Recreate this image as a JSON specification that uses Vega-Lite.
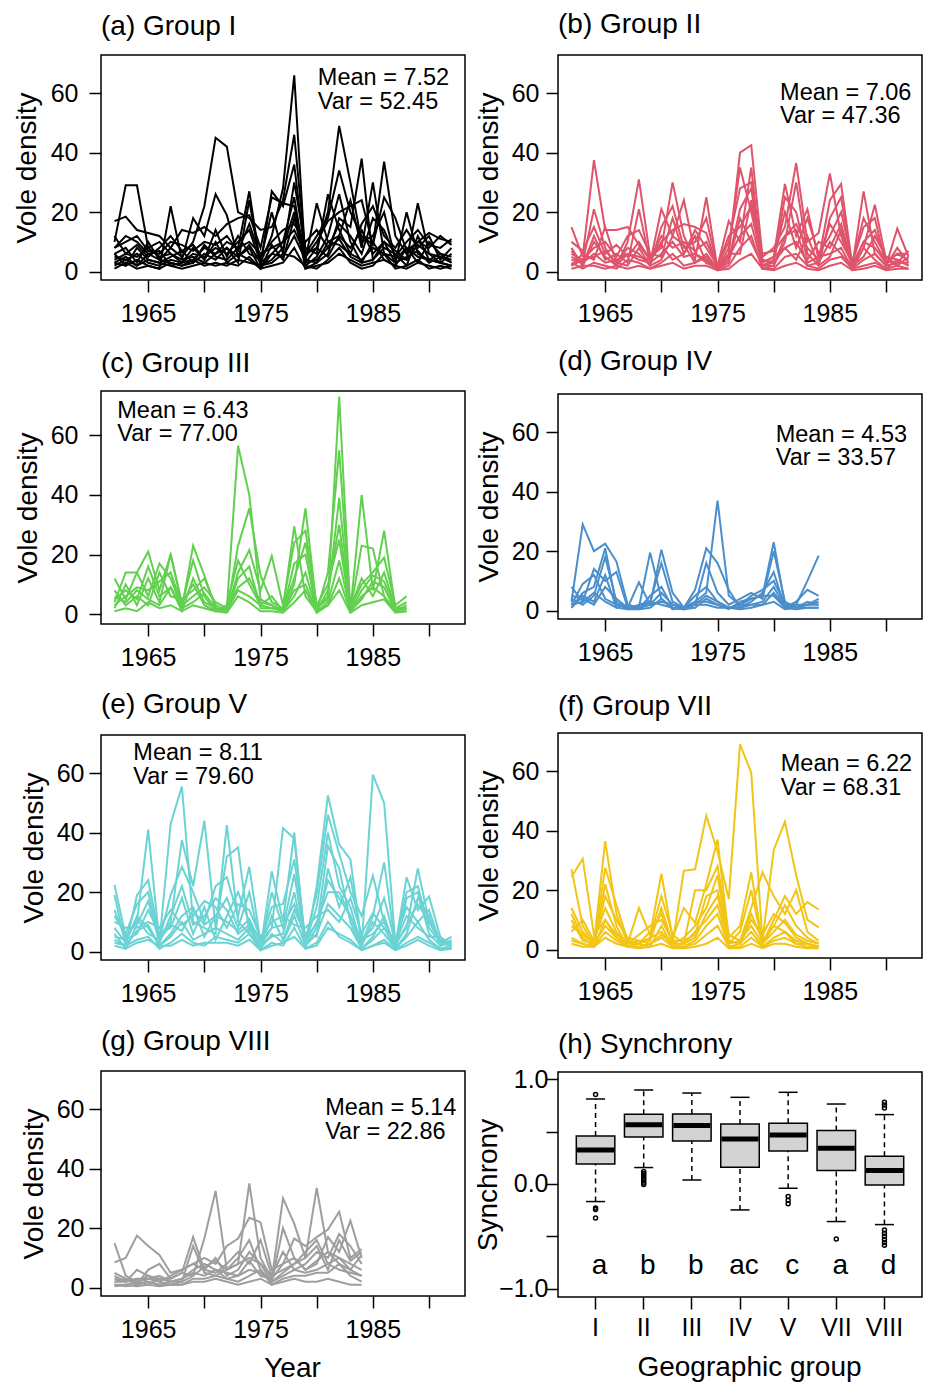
{
"$schema":"https://vega.github.io/schema/vega-lite/v6.json",
"padding":{"left":12,"top":9,"right":0,"bottom":0},
"background":"white",
"datasets":{
"a":[
{"s":1,"t":1962,"v":5},{"s":1,"t":1963,"v":4},{"s":1,"t":1964,"v":6},{"s":1,"t":1965,"v":3},{"s":1,"t":1966,"v":2},{"s":1,"t":1967,"v":4},{"s":1,"t":1968,"v":3},{"s":1,"t":1969,"v":6},{"s":1,"t":1970,"v":5},{"s":1,"t":1971,"v":8},{"s":1,"t":1972,"v":6},{"s":1,"t":1973,"v":10},{"s":1,"t":1974,"v":14},{"s":1,"t":1975,"v":3},{"s":1,"t":1976,"v":12},{"s":1,"t":1977,"v":28},{"s":1,"t":1978,"v":66},{"s":1,"t":1979,"v":3},{"s":1,"t":1980,"v":8},{"s":1,"t":1981,"v":20},{"s":1,"t":1982,"v":49},{"s":1,"t":1983,"v":30},{"s":1,"t":1984,"v":10},{"s":1,"t":1985,"v":12},{"s":1,"t":1986,"v":20},{"s":1,"t":1987,"v":4},{"s":1,"t":1988,"v":8},{"s":1,"t":1989,"v":5},{"s":1,"t":1990,"v":4},{"s":1,"t":1991,"v":6},{"s":1,"t":1992,"v":3},
{"s":2,"t":1962,"v":8},{"s":2,"t":1963,"v":12},{"s":2,"t":1964,"v":10},{"s":2,"t":1965,"v":6},{"s":2,"t":1966,"v":4},{"s":2,"t":1967,"v":8},{"s":2,"t":1968,"v":5},{"s":2,"t":1969,"v":10},{"s":2,"t":1970,"v":22},{"s":2,"t":1971,"v":45},{"s":2,"t":1972,"v":42},{"s":2,"t":1973,"v":20},{"s":2,"t":1974,"v":18},{"s":2,"t":1975,"v":14},{"s":2,"t":1976,"v":15},{"s":2,"t":1977,"v":24},{"s":2,"t":1978,"v":46},{"s":2,"t":1979,"v":6},{"s":2,"t":1980,"v":12},{"s":2,"t":1981,"v":18},{"s":2,"t":1982,"v":34},{"s":2,"t":1983,"v":20},{"s":2,"t":1984,"v":12},{"s":2,"t":1985,"v":9},{"s":2,"t":1986,"v":37},{"s":2,"t":1987,"v":12},{"s":2,"t":1988,"v":6},{"s":2,"t":1989,"v":10},{"s":2,"t":1990,"v":8},{"s":2,"t":1991,"v":12},{"s":2,"t":1992,"v":9},
{"s":3,"t":1962,"v":10},{"s":3,"t":1963,"v":29},{"s":3,"t":1964,"v":29},{"s":3,"t":1965,"v":8},{"s":3,"t":1966,"v":5},{"s":3,"t":1967,"v":6},{"s":3,"t":1968,"v":3},{"s":3,"t":1969,"v":4},{"s":3,"t":1970,"v":8},{"s":3,"t":1971,"v":6},{"s":3,"t":1972,"v":10},{"s":3,"t":1973,"v":8},{"s":3,"t":1974,"v":27},{"s":3,"t":1975,"v":2},{"s":3,"t":1976,"v":27},{"s":3,"t":1977,"v":22},{"s":3,"t":1978,"v":36},{"s":3,"t":1979,"v":4},{"s":3,"t":1980,"v":23},{"s":3,"t":1981,"v":10},{"s":3,"t":1982,"v":12},{"s":3,"t":1983,"v":24},{"s":3,"t":1984,"v":8},{"s":3,"t":1985,"v":30},{"s":3,"t":1986,"v":6},{"s":3,"t":1987,"v":5},{"s":3,"t":1988,"v":4},{"s":3,"t":1989,"v":23},{"s":3,"t":1990,"v":6},{"s":3,"t":1991,"v":5},{"s":3,"t":1992,"v":3},
{"s":4,"t":1962,"v":17},{"s":4,"t":1963,"v":18.5},{"s":4,"t":1964,"v":14},{"s":4,"t":1965,"v":13},{"s":4,"t":1966,"v":12},{"s":4,"t":1967,"v":8},{"s":4,"t":1968,"v":14},{"s":4,"t":1969,"v":13},{"s":4,"t":1970,"v":15},{"s":4,"t":1971,"v":12},{"s":4,"t":1972,"v":16},{"s":4,"t":1973,"v":18},{"s":4,"t":1974,"v":19},{"s":4,"t":1975,"v":8},{"s":4,"t":1976,"v":25},{"s":4,"t":1977,"v":23},{"s":4,"t":1978,"v":22},{"s":4,"t":1979,"v":5},{"s":4,"t":1980,"v":10},{"s":4,"t":1981,"v":17},{"s":4,"t":1982,"v":20},{"s":4,"t":1983,"v":22},{"s":4,"t":1984,"v":24},{"s":4,"t":1985,"v":9},{"s":4,"t":1986,"v":25},{"s":4,"t":1987,"v":18},{"s":4,"t":1988,"v":7},{"s":4,"t":1989,"v":10},{"s":4,"t":1990,"v":13},{"s":4,"t":1991,"v":11},{"s":4,"t":1992,"v":10},
{"s":5,"t":1962,"v":3},{"s":5,"t":1963,"v":2},{"s":5,"t":1964,"v":4},{"s":5,"t":1965,"v":2},{"s":5,"t":1966,"v":1},{"s":5,"t":1967,"v":22},{"s":5,"t":1968,"v":4},{"s":5,"t":1969,"v":18},{"s":5,"t":1970,"v":12},{"s":5,"t":1971,"v":26},{"s":5,"t":1972,"v":19},{"s":5,"t":1973,"v":5},{"s":5,"t":1974,"v":8},{"s":5,"t":1975,"v":1},{"s":5,"t":1976,"v":6},{"s":5,"t":1977,"v":10},{"s":5,"t":1978,"v":25},{"s":5,"t":1979,"v":2},{"s":5,"t":1980,"v":5},{"s":5,"t":1981,"v":12},{"s":5,"t":1982,"v":26},{"s":5,"t":1983,"v":10},{"s":5,"t":1984,"v":3},{"s":5,"t":1985,"v":4},{"s":5,"t":1986,"v":10},{"s":5,"t":1987,"v":3},{"s":5,"t":1988,"v":20},{"s":5,"t":1989,"v":6},{"s":5,"t":1990,"v":4},{"s":5,"t":1991,"v":3},{"s":5,"t":1992,"v":2},
{"s":6,"t":1962,"v":6},{"s":6,"t":1963,"v":8},{"s":6,"t":1964,"v":3},{"s":6,"t":1965,"v":10},{"s":6,"t":1966,"v":4},{"s":6,"t":1967,"v":3},{"s":6,"t":1968,"v":2},{"s":6,"t":1969,"v":3},{"s":6,"t":1970,"v":6},{"s":6,"t":1971,"v":4},{"s":6,"t":1972,"v":8},{"s":6,"t":1973,"v":3},{"s":6,"t":1974,"v":24},{"s":6,"t":1975,"v":2},{"s":6,"t":1976,"v":4},{"s":6,"t":1977,"v":8},{"s":6,"t":1978,"v":20},{"s":6,"t":1979,"v":1},{"s":6,"t":1980,"v":3},{"s":6,"t":1981,"v":6},{"s":6,"t":1982,"v":18},{"s":6,"t":1983,"v":15},{"s":6,"t":1984,"v":38},{"s":6,"t":1985,"v":4},{"s":6,"t":1986,"v":8},{"s":6,"t":1987,"v":6},{"s":6,"t":1988,"v":2},{"s":6,"t":1989,"v":12},{"s":6,"t":1990,"v":4},{"s":6,"t":1991,"v":3},{"s":6,"t":1992,"v":2},
{"s":7,"t":1962,"v":12},{"s":7,"t":1963,"v":6},{"s":7,"t":1964,"v":9},{"s":7,"t":1965,"v":5},{"s":7,"t":1966,"v":8},{"s":7,"t":1967,"v":12},{"s":7,"t":1968,"v":7},{"s":7,"t":1969,"v":9},{"s":7,"t":1970,"v":4},{"s":7,"t":1971,"v":14},{"s":7,"t":1972,"v":5},{"s":7,"t":1973,"v":12},{"s":7,"t":1974,"v":6},{"s":7,"t":1975,"v":4},{"s":7,"t":1976,"v":20},{"s":7,"t":1977,"v":6},{"s":7,"t":1978,"v":30},{"s":7,"t":1979,"v":8},{"s":7,"t":1980,"v":6},{"s":7,"t":1981,"v":26},{"s":7,"t":1982,"v":14},{"s":7,"t":1983,"v":6},{"s":7,"t":1984,"v":16},{"s":7,"t":1985,"v":22},{"s":7,"t":1986,"v":12},{"s":7,"t":1987,"v":8},{"s":7,"t":1988,"v":14},{"s":7,"t":1989,"v":8},{"s":7,"t":1990,"v":12},{"s":7,"t":1991,"v":4},{"s":7,"t":1992,"v":8},
{"s":8,"t":1962,"v":2},{"s":8,"t":1963,"v":4},{"s":8,"t":1964,"v":2},{"s":8,"t":1965,"v":4},{"s":8,"t":1966,"v":3},{"s":8,"t":1967,"v":2},{"s":8,"t":1968,"v":1},{"s":8,"t":1969,"v":2},{"s":8,"t":1970,"v":3},{"s":8,"t":1971,"v":2},{"s":8,"t":1972,"v":3},{"s":8,"t":1973,"v":2},{"s":8,"t":1974,"v":5},{"s":8,"t":1975,"v":1},{"s":8,"t":1976,"v":2},{"s":8,"t":1977,"v":3},{"s":8,"t":1978,"v":8},{"s":8,"t":1979,"v":1},{"s":8,"t":1980,"v":2},{"s":8,"t":1981,"v":3},{"s":8,"t":1982,"v":6},{"s":8,"t":1983,"v":4},{"s":8,"t":1984,"v":2},{"s":8,"t":1985,"v":3},{"s":8,"t":1986,"v":4},{"s":8,"t":1987,"v":2},{"s":8,"t":1988,"v":1},{"s":8,"t":1989,"v":3},{"s":8,"t":1990,"v":2},{"s":8,"t":1991,"v":1},{"s":8,"t":1992,"v":2},
{"s":9,"t":1962,"v":8},{"s":9,"t":1963,"v":10},{"s":9,"t":1964,"v":12},{"s":9,"t":1965,"v":7},{"s":9,"t":1966,"v":6},{"s":9,"t":1967,"v":10},{"s":9,"t":1968,"v":9},{"s":9,"t":1969,"v":7},{"s":9,"t":1970,"v":10},{"s":9,"t":1971,"v":9},{"s":9,"t":1972,"v":12},{"s":9,"t":1973,"v":7},{"s":9,"t":1974,"v":16},{"s":9,"t":1975,"v":5},{"s":9,"t":1976,"v":10},{"s":9,"t":1977,"v":14},{"s":9,"t":1978,"v":16},{"s":9,"t":1979,"v":10},{"s":9,"t":1980,"v":14},{"s":9,"t":1981,"v":8},{"s":9,"t":1982,"v":16},{"s":9,"t":1983,"v":12},{"s":9,"t":1984,"v":6},{"s":9,"t":1985,"v":18},{"s":9,"t":1986,"v":14},{"s":9,"t":1987,"v":5},{"s":9,"t":1988,"v":10},{"s":9,"t":1989,"v":14},{"s":9,"t":1990,"v":9},{"s":9,"t":1991,"v":8},{"s":9,"t":1992,"v":11},
{"s":10,"t":1962,"v":4},{"s":10,"t":1963,"v":6},{"s":10,"t":1964,"v":5},{"s":10,"t":1965,"v":8},{"s":10,"t":1966,"v":10},{"s":10,"t":1967,"v":6},{"s":10,"t":1968,"v":4},{"s":10,"t":1969,"v":5},{"s":10,"t":1970,"v":3},{"s":10,"t":1971,"v":6},{"s":10,"t":1972,"v":8},{"s":10,"t":1973,"v":5},{"s":10,"t":1974,"v":9},{"s":10,"t":1975,"v":3},{"s":10,"t":1976,"v":6},{"s":10,"t":1977,"v":5},{"s":10,"t":1978,"v":12},{"s":10,"t":1979,"v":4},{"s":10,"t":1980,"v":3},{"s":10,"t":1981,"v":10},{"s":10,"t":1982,"v":9},{"s":10,"t":1983,"v":6},{"s":10,"t":1984,"v":4},{"s":10,"t":1985,"v":8},{"s":10,"t":1986,"v":6},{"s":10,"t":1987,"v":3},{"s":10,"t":1988,"v":5},{"s":10,"t":1989,"v":7},{"s":10,"t":1990,"v":3},{"s":10,"t":1991,"v":5},{"s":10,"t":1992,"v":4},
{"s":11,"t":1962,"v":1},{"s":11,"t":1963,"v":3},{"s":11,"t":1964,"v":1},{"s":11,"t":1965,"v":2},{"s":11,"t":1966,"v":1},{"s":11,"t":1967,"v":3},{"s":11,"t":1968,"v":2},{"s":11,"t":1969,"v":4},{"s":11,"t":1970,"v":2},{"s":11,"t":1971,"v":3},{"s":11,"t":1972,"v":2},{"s":11,"t":1973,"v":4},{"s":11,"t":1974,"v":3},{"s":11,"t":1975,"v":2},{"s":11,"t":1976,"v":3},{"s":11,"t":1977,"v":6},{"s":11,"t":1978,"v":5},{"s":11,"t":1979,"v":2},{"s":11,"t":1980,"v":1},{"s":11,"t":1981,"v":4},{"s":11,"t":1982,"v":8},{"s":11,"t":1983,"v":3},{"s":11,"t":1984,"v":1},{"s":11,"t":1985,"v":2},{"s":11,"t":1986,"v":6},{"s":11,"t":1987,"v":1},{"s":11,"t":1988,"v":2},{"s":11,"t":1989,"v":4},{"s":11,"t":1990,"v":1},{"s":11,"t":1991,"v":2},{"s":11,"t":1992,"v":1},
{"s":12,"t":1962,"v":6},{"s":12,"t":1963,"v":2},{"s":12,"t":1964,"v":8},{"s":12,"t":1965,"v":4},{"s":12,"t":1966,"v":3},{"s":12,"t":1967,"v":5},{"s":12,"t":1968,"v":7},{"s":12,"t":1969,"v":3},{"s":12,"t":1970,"v":9},{"s":12,"t":1971,"v":5},{"s":12,"t":1972,"v":4},{"s":12,"t":1973,"v":8},{"s":12,"t":1974,"v":10},{"s":12,"t":1975,"v":6},{"s":12,"t":1976,"v":8},{"s":12,"t":1977,"v":10},{"s":12,"t":1978,"v":14},{"s":12,"t":1979,"v":6},{"s":12,"t":1980,"v":8},{"s":12,"t":1981,"v":5},{"s":12,"t":1982,"v":12},{"s":12,"t":1983,"v":8},{"s":12,"t":1984,"v":14},{"s":12,"t":1985,"v":6},{"s":12,"t":1986,"v":10},{"s":12,"t":1987,"v":7},{"s":12,"t":1988,"v":4},{"s":12,"t":1989,"v":9},{"s":12,"t":1990,"v":6},{"s":12,"t":1991,"v":3},{"s":12,"t":1992,"v":6},
{"s":13,"t":1962,"v":3},{"s":13,"t":1963,"v":5},{"s":13,"t":1964,"v":2},{"s":13,"t":1965,"v":6},{"s":13,"t":1966,"v":7},{"s":13,"t":1967,"v":2},{"s":13,"t":1968,"v":3},{"s":13,"t":1969,"v":8},{"s":13,"t":1970,"v":4},{"s":13,"t":1971,"v":10},{"s":13,"t":1972,"v":3},{"s":13,"t":1973,"v":6},{"s":13,"t":1974,"v":4},{"s":13,"t":1975,"v":1},{"s":13,"t":1976,"v":9},{"s":13,"t":1977,"v":4},{"s":13,"t":1978,"v":18},{"s":13,"t":1979,"v":3},{"s":13,"t":1980,"v":4},{"s":13,"t":1981,"v":8},{"s":13,"t":1982,"v":11},{"s":13,"t":1983,"v":5},{"s":13,"t":1984,"v":3},{"s":13,"t":1985,"v":10},{"s":13,"t":1986,"v":4},{"s":13,"t":1987,"v":2},{"s":13,"t":1988,"v":8},{"s":13,"t":1989,"v":3},{"s":13,"t":1990,"v":10},{"s":13,"t":1991,"v":6},{"s":13,"t":1992,"v":5}
],
"b":[
{"s":1,"t":1962,"v":15},{"s":1,"t":1963,"v":5},{"s":1,"t":1964,"v":37.5},{"s":1,"t":1965,"v":14},{"s":1,"t":1966,"v":14},{"s":1,"t":1967,"v":15},{"s":1,"t":1968,"v":9},{"s":1,"t":1969,"v":4},{"s":1,"t":1970,"v":10},{"s":1,"t":1971,"v":14},{"s":1,"t":1972,"v":16},{"s":1,"t":1973,"v":15},{"s":1,"t":1974,"v":13},{"s":1,"t":1975,"v":1},{"s":1,"t":1976,"v":6},{"s":1,"t":1977,"v":40},{"s":1,"t":1978,"v":42.5},{"s":1,"t":1979,"v":5},{"s":1,"t":1980,"v":8},{"s":1,"t":1981,"v":15},{"s":1,"t":1982,"v":36.5},{"s":1,"t":1983,"v":10},{"s":1,"t":1984,"v":13},{"s":1,"t":1985,"v":33},{"s":1,"t":1986,"v":12},{"s":1,"t":1987,"v":2},{"s":1,"t":1988,"v":10},{"s":1,"t":1989,"v":8},{"s":1,"t":1990,"v":3},{"s":1,"t":1991,"v":6},{"s":1,"t":1992,"v":4},
{"s":2,"t":1962,"v":4},{"s":2,"t":1963,"v":3},{"s":2,"t":1964,"v":21},{"s":2,"t":1965,"v":8},{"s":2,"t":1966,"v":2},{"s":2,"t":1967,"v":10},{"s":2,"t":1968,"v":31},{"s":2,"t":1969,"v":5},{"s":2,"t":1970,"v":8},{"s":2,"t":1971,"v":30},{"s":2,"t":1972,"v":12},{"s":2,"t":1973,"v":4},{"s":2,"t":1974,"v":25},{"s":2,"t":1975,"v":1},{"s":2,"t":1976,"v":8},{"s":2,"t":1977,"v":35},{"s":2,"t":1978,"v":20},{"s":2,"t":1979,"v":3},{"s":2,"t":1980,"v":5},{"s":2,"t":1981,"v":29.5},{"s":2,"t":1982,"v":12},{"s":2,"t":1983,"v":21},{"s":2,"t":1984,"v":4},{"s":2,"t":1985,"v":24},{"s":2,"t":1986,"v":29.5},{"s":2,"t":1987,"v":2},{"s":2,"t":1988,"v":27},{"s":2,"t":1989,"v":6},{"s":2,"t":1990,"v":2},{"s":2,"t":1991,"v":14.5},{"s":2,"t":1992,"v":5},
{"s":3,"t":1962,"v":8},{"s":3,"t":1963,"v":2},{"s":3,"t":1964,"v":12},{"s":3,"t":1965,"v":4},{"s":3,"t":1966,"v":6},{"s":3,"t":1967,"v":3},{"s":3,"t":1968,"v":21},{"s":3,"t":1969,"v":3},{"s":3,"t":1970,"v":21},{"s":3,"t":1971,"v":12},{"s":3,"t":1972,"v":24},{"s":3,"t":1973,"v":6},{"s":3,"t":1974,"v":3},{"s":3,"t":1975,"v":2},{"s":3,"t":1976,"v":17},{"s":3,"t":1977,"v":10},{"s":3,"t":1978,"v":35},{"s":3,"t":1979,"v":1},{"s":3,"t":1980,"v":2},{"s":3,"t":1981,"v":10},{"s":3,"t":1982,"v":30},{"s":3,"t":1983,"v":6},{"s":3,"t":1984,"v":2},{"s":3,"t":1985,"v":18},{"s":3,"t":1986,"v":25},{"s":3,"t":1987,"v":1},{"s":3,"t":1988,"v":8},{"s":3,"t":1989,"v":22.5},{"s":3,"t":1990,"v":4},{"s":3,"t":1991,"v":3},{"s":3,"t":1992,"v":7},
{"s":4,"t":1962,"v":2},{"s":4,"t":1963,"v":6},{"s":4,"t":1964,"v":4},{"s":4,"t":1965,"v":15},{"s":4,"t":1966,"v":3},{"s":4,"t":1967,"v":8},{"s":4,"t":1968,"v":6},{"s":4,"t":1969,"v":2},{"s":4,"t":1970,"v":15},{"s":4,"t":1971,"v":22},{"s":4,"t":1972,"v":8},{"s":4,"t":1973,"v":10},{"s":4,"t":1974,"v":18},{"s":4,"t":1975,"v":1},{"s":4,"t":1976,"v":4},{"s":4,"t":1977,"v":21},{"s":4,"t":1978,"v":28},{"s":4,"t":1979,"v":2},{"s":4,"t":1980,"v":4},{"s":4,"t":1981,"v":20},{"s":4,"t":1982,"v":8},{"s":4,"t":1983,"v":18},{"s":4,"t":1984,"v":6},{"s":4,"t":1985,"v":12},{"s":4,"t":1986,"v":20},{"s":4,"t":1987,"v":3},{"s":4,"t":1988,"v":15},{"s":4,"t":1989,"v":18},{"s":4,"t":1990,"v":2},{"s":4,"t":1991,"v":8},{"s":4,"t":1992,"v":3},
{"s":5,"t":1962,"v":6},{"s":5,"t":1963,"v":4},{"s":5,"t":1964,"v":8},{"s":5,"t":1965,"v":10},{"s":5,"t":1966,"v":5},{"s":5,"t":1967,"v":12},{"s":5,"t":1968,"v":14},{"s":5,"t":1969,"v":6},{"s":5,"t":1970,"v":5},{"s":5,"t":1971,"v":18},{"s":5,"t":1972,"v":6},{"s":5,"t":1973,"v":14},{"s":5,"t":1974,"v":8},{"s":5,"t":1975,"v":2},{"s":5,"t":1976,"v":10},{"s":5,"t":1977,"v":28},{"s":5,"t":1978,"v":30},{"s":5,"t":1979,"v":4},{"s":5,"t":1980,"v":3},{"s":5,"t":1981,"v":25},{"s":5,"t":1982,"v":20},{"s":5,"t":1983,"v":4},{"s":5,"t":1984,"v":10},{"s":5,"t":1985,"v":8},{"s":5,"t":1986,"v":16},{"s":5,"t":1987,"v":2},{"s":5,"t":1988,"v":5},{"s":5,"t":1989,"v":12},{"s":5,"t":1990,"v":5},{"s":5,"t":1991,"v":4},{"s":5,"t":1992,"v":2},
{"s":6,"t":1962,"v":3},{"s":6,"t":1963,"v":1},{"s":6,"t":1964,"v":3},{"s":6,"t":1965,"v":2},{"s":6,"t":1966,"v":1},{"s":6,"t":1967,"v":4},{"s":6,"t":1968,"v":3},{"s":6,"t":1969,"v":1},{"s":6,"t":1970,"v":3},{"s":6,"t":1971,"v":6},{"s":6,"t":1972,"v":2},{"s":6,"t":1973,"v":3},{"s":6,"t":1974,"v":5},{"s":6,"t":1975,"v":0.5},{"s":6,"t":1976,"v":2},{"s":6,"t":1977,"v":8},{"s":6,"t":1978,"v":12},{"s":6,"t":1979,"v":1},{"s":6,"t":1980,"v":1},{"s":6,"t":1981,"v":5},{"s":6,"t":1982,"v":6},{"s":6,"t":1983,"v":2},{"s":6,"t":1984,"v":1},{"s":6,"t":1985,"v":4},{"s":6,"t":1986,"v":5},{"s":6,"t":1987,"v":1},{"s":6,"t":1988,"v":2},{"s":6,"t":1989,"v":3},{"s":6,"t":1990,"v":1},{"s":6,"t":1991,"v":2},{"s":6,"t":1992,"v":1},
{"s":7,"t":1962,"v":10},{"s":7,"t":1963,"v":7},{"s":7,"t":1964,"v":15},{"s":7,"t":1965,"v":6},{"s":7,"t":1966,"v":9},{"s":7,"t":1967,"v":5},{"s":7,"t":1968,"v":10},{"s":7,"t":1969,"v":4},{"s":7,"t":1970,"v":12},{"s":7,"t":1971,"v":8},{"s":7,"t":1972,"v":10},{"s":7,"t":1973,"v":7},{"s":7,"t":1974,"v":10},{"s":7,"t":1975,"v":2},{"s":7,"t":1976,"v":12},{"s":7,"t":1977,"v":15},{"s":7,"t":1978,"v":22},{"s":7,"t":1979,"v":6},{"s":7,"t":1980,"v":7},{"s":7,"t":1981,"v":12},{"s":7,"t":1982,"v":16},{"s":7,"t":1983,"v":8},{"s":7,"t":1984,"v":4},{"s":7,"t":1985,"v":16},{"s":7,"t":1986,"v":10},{"s":7,"t":1987,"v":3},{"s":7,"t":1988,"v":18},{"s":7,"t":1989,"v":10},{"s":7,"t":1990,"v":3},{"s":7,"t":1991,"v":6},{"s":7,"t":1992,"v":6},
{"s":8,"t":1962,"v":5},{"s":8,"t":1963,"v":3},{"s":8,"t":1964,"v":6},{"s":8,"t":1965,"v":3},{"s":8,"t":1966,"v":4},{"s":8,"t":1967,"v":6},{"s":8,"t":1968,"v":4},{"s":8,"t":1969,"v":3},{"s":8,"t":1970,"v":6},{"s":8,"t":1971,"v":10},{"s":8,"t":1972,"v":5},{"s":8,"t":1973,"v":6},{"s":8,"t":1974,"v":4},{"s":8,"t":1975,"v":1},{"s":8,"t":1976,"v":5},{"s":8,"t":1977,"v":12},{"s":8,"t":1978,"v":16},{"s":8,"t":1979,"v":2},{"s":8,"t":1980,"v":3},{"s":8,"t":1981,"v":8},{"s":8,"t":1982,"v":10},{"s":8,"t":1983,"v":3},{"s":8,"t":1984,"v":5},{"s":8,"t":1985,"v":6},{"s":8,"t":1986,"v":8},{"s":8,"t":1987,"v":1},{"s":8,"t":1988,"v":4},{"s":8,"t":1989,"v":6},{"s":8,"t":1990,"v":2},{"s":8,"t":1991,"v":3},{"s":8,"t":1992,"v":3},
{"s":9,"t":1962,"v":2},{"s":9,"t":1963,"v":4},{"s":9,"t":1964,"v":5},{"s":9,"t":1965,"v":7},{"s":9,"t":1966,"v":3},{"s":9,"t":1967,"v":2},{"s":9,"t":1968,"v":8},{"s":9,"t":1969,"v":2},{"s":9,"t":1970,"v":4},{"s":9,"t":1971,"v":12},{"s":9,"t":1972,"v":9},{"s":9,"t":1973,"v":3},{"s":9,"t":1974,"v":6},{"s":9,"t":1975,"v":1},{"s":9,"t":1976,"v":3},{"s":9,"t":1977,"v":18},{"s":9,"t":1978,"v":10},{"s":9,"t":1979,"v":2},{"s":9,"t":1980,"v":2},{"s":9,"t":1981,"v":12},{"s":9,"t":1982,"v":14},{"s":9,"t":1983,"v":2},{"s":9,"t":1984,"v":3},{"s":9,"t":1985,"v":10},{"s":9,"t":1986,"v":6},{"s":9,"t":1987,"v":1},{"s":9,"t":1988,"v":8},{"s":9,"t":1989,"v":4},{"s":9,"t":1990,"v":1},{"s":9,"t":1991,"v":4},{"s":9,"t":1992,"v":2},
{"s":10,"t":1962,"v":7},{"s":10,"t":1963,"v":2},{"s":10,"t":1964,"v":10},{"s":10,"t":1965,"v":5},{"s":10,"t":1966,"v":2},{"s":10,"t":1967,"v":6},{"s":10,"t":1968,"v":5},{"s":10,"t":1969,"v":4},{"s":10,"t":1970,"v":9},{"s":10,"t":1971,"v":4},{"s":10,"t":1972,"v":6},{"s":10,"t":1973,"v":12},{"s":10,"t":1974,"v":3},{"s":10,"t":1975,"v":1},{"s":10,"t":1976,"v":6},{"s":10,"t":1977,"v":6},{"s":10,"t":1978,"v":24},{"s":10,"t":1979,"v":3},{"s":10,"t":1980,"v":5},{"s":10,"t":1981,"v":8},{"s":10,"t":1982,"v":4},{"s":10,"t":1983,"v":12},{"s":10,"t":1984,"v":2},{"s":10,"t":1985,"v":5},{"s":10,"t":1986,"v":14},{"s":10,"t":1987,"v":2},{"s":10,"t":1988,"v":10},{"s":10,"t":1989,"v":14},{"s":10,"t":1990,"v":4},{"s":10,"t":1991,"v":2},{"s":10,"t":1992,"v":5},
{"s":11,"t":1962,"v":1},{"s":11,"t":1963,"v":2},{"s":11,"t":1964,"v":2},{"s":11,"t":1965,"v":1},{"s":11,"t":1966,"v":2},{"s":11,"t":1967,"v":1},{"s":11,"t":1968,"v":2},{"s":11,"t":1969,"v":1},{"s":11,"t":1970,"v":2},{"s":11,"t":1971,"v":3},{"s":11,"t":1972,"v":1},{"s":11,"t":1973,"v":2},{"s":11,"t":1974,"v":2},{"s":11,"t":1975,"v":0.5},{"s":11,"t":1976,"v":1},{"s":11,"t":1977,"v":4},{"s":11,"t":1978,"v":6},{"s":11,"t":1979,"v":1},{"s":11,"t":1980,"v":0.5},{"s":11,"t":1981,"v":2},{"s":11,"t":1982,"v":3},{"s":11,"t":1983,"v":1},{"s":11,"t":1984,"v":0.5},{"s":11,"t":1985,"v":2},{"s":11,"t":1986,"v":3},{"s":11,"t":1987,"v":0.5},{"s":11,"t":1988,"v":1},{"s":11,"t":1989,"v":2},{"s":11,"t":1990,"v":0.5},{"s":11,"t":1991,"v":1},{"s":11,"t":1992,"v":1}
],
"c":[
{"s":1,"t":1962,"v":12},{"s":1,"t":1963,"v":5},{"s":1,"t":1964,"v":14},{"s":1,"t":1965,"v":21},{"s":1,"t":1966,"v":8},{"s":1,"t":1967,"v":20},{"s":1,"t":1968,"v":4},{"s":1,"t":1969,"v":10},{"s":1,"t":1970,"v":3},{"s":1,"t":1971,"v":1},{"s":1,"t":1972,"v":2},{"s":1,"t":1973,"v":56.5},{"s":1,"t":1974,"v":40},{"s":1,"t":1975,"v":5},{"s":1,"t":1976,"v":3},{"s":1,"t":1977,"v":1},{"s":1,"t":1978,"v":10},{"s":1,"t":1979,"v":35.5},{"s":1,"t":1980,"v":2},{"s":1,"t":1981,"v":5},{"s":1,"t":1982,"v":73},{"s":1,"t":1983,"v":1},{"s":1,"t":1984,"v":40},{"s":1,"t":1985,"v":8},{"s":1,"t":1986,"v":28},{"s":1,"t":1987,"v":2},{"s":1,"t":1988,"v":4},
{"s":2,"t":1962,"v":4},{"s":2,"t":1963,"v":14},{"s":2,"t":1964,"v":14},{"s":2,"t":1965,"v":6},{"s":2,"t":1966,"v":17},{"s":2,"t":1967,"v":12},{"s":2,"t":1968,"v":2},{"s":2,"t":1969,"v":23},{"s":2,"t":1970,"v":13},{"s":2,"t":1971,"v":2},{"s":2,"t":1972,"v":1},{"s":2,"t":1973,"v":23},{"s":2,"t":1974,"v":35.5},{"s":2,"t":1975,"v":13},{"s":2,"t":1976,"v":4},{"s":2,"t":1977,"v":2},{"s":2,"t":1978,"v":29.5},{"s":2,"t":1979,"v":6},{"s":2,"t":1980,"v":1},{"s":2,"t":1981,"v":14},{"s":2,"t":1982,"v":55},{"s":2,"t":1983,"v":1},{"s":2,"t":1984,"v":23},{"s":2,"t":1985,"v":22},{"s":2,"t":1986,"v":6},{"s":2,"t":1987,"v":1},{"s":2,"t":1988,"v":3},
{"s":3,"t":1962,"v":8},{"s":3,"t":1963,"v":3},{"s":3,"t":1964,"v":6},{"s":3,"t":1965,"v":3},{"s":3,"t":1966,"v":14},{"s":3,"t":1967,"v":6},{"s":3,"t":1968,"v":5},{"s":3,"t":1969,"v":8},{"s":3,"t":1970,"v":12},{"s":3,"t":1971,"v":3},{"s":3,"t":1972,"v":1},{"s":3,"t":1973,"v":14},{"s":3,"t":1974,"v":21.5},{"s":3,"t":1975,"v":8},{"s":3,"t":1976,"v":19.5},{"s":3,"t":1977,"v":3},{"s":3,"t":1978,"v":24},{"s":3,"t":1979,"v":28},{"s":3,"t":1980,"v":2},{"s":3,"t":1981,"v":6},{"s":3,"t":1982,"v":39},{"s":3,"t":1983,"v":2},{"s":3,"t":1984,"v":10},{"s":3,"t":1985,"v":14},{"s":3,"t":1986,"v":19},{"s":3,"t":1987,"v":3},{"s":3,"t":1988,"v":6},
{"s":4,"t":1962,"v":2},{"s":4,"t":1963,"v":10},{"s":4,"t":1964,"v":3},{"s":4,"t":1965,"v":12},{"s":4,"t":1966,"v":4},{"s":4,"t":1967,"v":20},{"s":4,"t":1968,"v":3},{"s":4,"t":1969,"v":18},{"s":4,"t":1970,"v":6},{"s":4,"t":1971,"v":1},{"s":4,"t":1972,"v":3},{"s":4,"t":1973,"v":18},{"s":4,"t":1974,"v":10},{"s":4,"t":1975,"v":3},{"s":4,"t":1976,"v":6},{"s":4,"t":1977,"v":1},{"s":4,"t":1978,"v":17},{"s":4,"t":1979,"v":20},{"s":4,"t":1980,"v":1},{"s":4,"t":1981,"v":8},{"s":4,"t":1982,"v":30},{"s":4,"t":1983,"v":2},{"s":4,"t":1984,"v":12},{"s":4,"t":1985,"v":6},{"s":4,"t":1986,"v":14},{"s":4,"t":1987,"v":2},{"s":4,"t":1988,"v":2},
{"s":5,"t":1962,"v":5},{"s":5,"t":1963,"v":8},{"s":5,"t":1964,"v":5},{"s":5,"t":1965,"v":16},{"s":5,"t":1966,"v":6},{"s":5,"t":1967,"v":9},{"s":5,"t":1968,"v":1},{"s":5,"t":1969,"v":12},{"s":5,"t":1970,"v":4},{"s":5,"t":1971,"v":2},{"s":5,"t":1972,"v":1},{"s":5,"t":1973,"v":12},{"s":5,"t":1974,"v":16},{"s":5,"t":1975,"v":2},{"s":5,"t":1976,"v":2},{"s":5,"t":1977,"v":2},{"s":5,"t":1978,"v":12},{"s":5,"t":1979,"v":24},{"s":5,"t":1980,"v":3},{"s":5,"t":1981,"v":10},{"s":5,"t":1982,"v":25},{"s":5,"t":1983,"v":1},{"s":5,"t":1984,"v":5},{"s":5,"t":1985,"v":11},{"s":5,"t":1986,"v":9},{"s":5,"t":1987,"v":1},{"s":5,"t":1988,"v":1},
{"s":6,"t":1962,"v":1},{"s":6,"t":1963,"v":2},{"s":6,"t":1964,"v":1},{"s":6,"t":1965,"v":4},{"s":6,"t":1966,"v":2},{"s":6,"t":1967,"v":3},{"s":6,"t":1968,"v":1},{"s":6,"t":1969,"v":3},{"s":6,"t":1970,"v":2},{"s":6,"t":1971,"v":1},{"s":6,"t":1972,"v":0.5},{"s":6,"t":1973,"v":6},{"s":6,"t":1974,"v":4},{"s":6,"t":1975,"v":1},{"s":6,"t":1976,"v":1},{"s":6,"t":1977,"v":0.5},{"s":6,"t":1978,"v":4},{"s":6,"t":1979,"v":8},{"s":6,"t":1980,"v":0.5},{"s":6,"t":1981,"v":3},{"s":6,"t":1982,"v":8},{"s":6,"t":1983,"v":0.5},{"s":6,"t":1984,"v":3},{"s":6,"t":1985,"v":4},{"s":6,"t":1986,"v":5},{"s":6,"t":1987,"v":0.5},{"s":6,"t":1988,"v":1},
{"s":7,"t":1962,"v":3},{"s":7,"t":1963,"v":6},{"s":7,"t":1964,"v":9},{"s":7,"t":1965,"v":8},{"s":7,"t":1966,"v":11},{"s":7,"t":1967,"v":14},{"s":7,"t":1968,"v":3},{"s":7,"t":1969,"v":6},{"s":7,"t":1970,"v":9},{"s":7,"t":1971,"v":4},{"s":7,"t":1972,"v":2},{"s":7,"t":1973,"v":9},{"s":7,"t":1974,"v":12},{"s":7,"t":1975,"v":4},{"s":7,"t":1976,"v":3},{"s":7,"t":1977,"v":1},{"s":7,"t":1978,"v":6},{"s":7,"t":1979,"v":14},{"s":7,"t":1980,"v":1},{"s":7,"t":1981,"v":4},{"s":7,"t":1982,"v":18},{"s":7,"t":1983,"v":1},{"s":7,"t":1984,"v":8},{"s":7,"t":1985,"v":13},{"s":7,"t":1986,"v":11},{"s":7,"t":1987,"v":2},{"s":7,"t":1988,"v":2},
{"s":8,"t":1962,"v":6},{"s":8,"t":1963,"v":4},{"s":8,"t":1964,"v":8},{"s":8,"t":1965,"v":5},{"s":8,"t":1966,"v":3},{"s":8,"t":1967,"v":9},{"s":8,"t":1968,"v":2},{"s":8,"t":1969,"v":4},{"s":8,"t":1970,"v":7},{"s":8,"t":1971,"v":2},{"s":8,"t":1972,"v":1},{"s":8,"t":1973,"v":8},{"s":8,"t":1974,"v":6},{"s":8,"t":1975,"v":3},{"s":8,"t":1976,"v":2},{"s":8,"t":1977,"v":1},{"s":8,"t":1978,"v":8},{"s":8,"t":1979,"v":10},{"s":8,"t":1980,"v":1},{"s":8,"t":1981,"v":3},{"s":8,"t":1982,"v":12},{"s":8,"t":1983,"v":1},{"s":8,"t":1984,"v":6},{"s":8,"t":1985,"v":9},{"s":8,"t":1986,"v":6},{"s":8,"t":1987,"v":1},{"s":8,"t":1988,"v":2}
],
"d":[
{"s":1,"t":1962,"v":3},{"s":1,"t":1963,"v":29},{"s":1,"t":1964,"v":20},{"s":1,"t":1965,"v":22.5},{"s":1,"t":1966,"v":16.5},{"s":1,"t":1967,"v":2},{"s":1,"t":1968,"v":1},{"s":1,"t":1969,"v":2},{"s":1,"t":1970,"v":3},{"s":1,"t":1971,"v":2},{"s":1,"t":1972,"v":1},{"s":1,"t":1973,"v":3},{"s":1,"t":1974,"v":6},{"s":1,"t":1975,"v":37},{"s":1,"t":1976,"v":5},{"s":1,"t":1977,"v":2},{"s":1,"t":1978,"v":4},{"s":1,"t":1979,"v":5},{"s":1,"t":1980,"v":23},{"s":1,"t":1981,"v":2},{"s":1,"t":1982,"v":2},{"s":1,"t":1983,"v":10},{"s":1,"t":1984,"v":18.5},
{"s":2,"t":1962,"v":8},{"s":2,"t":1963,"v":3},{"s":2,"t":1964,"v":14},{"s":2,"t":1965,"v":10},{"s":2,"t":1966,"v":13},{"s":2,"t":1967,"v":1},{"s":2,"t":1968,"v":9.5},{"s":2,"t":1969,"v":2},{"s":2,"t":1970,"v":20.5},{"s":2,"t":1971,"v":6},{"s":2,"t":1972,"v":1},{"s":2,"t":1973,"v":7},{"s":2,"t":1974,"v":21},{"s":2,"t":1975,"v":16},{"s":2,"t":1976,"v":7},{"s":2,"t":1977,"v":1},{"s":2,"t":1978,"v":3},{"s":2,"t":1979,"v":6},{"s":2,"t":1980,"v":13},{"s":2,"t":1981,"v":1},{"s":2,"t":1982,"v":3},{"s":2,"t":1983,"v":7},{"s":2,"t":1984,"v":5},
{"s":3,"t":1962,"v":1},{"s":3,"t":1963,"v":6},{"s":3,"t":1964,"v":8},{"s":3,"t":1965,"v":21},{"s":3,"t":1966,"v":2},{"s":3,"t":1967,"v":1},{"s":3,"t":1968,"v":1},{"s":3,"t":1969,"v":19.5},{"s":3,"t":1970,"v":4},{"s":3,"t":1971,"v":1},{"s":3,"t":1972,"v":0.5},{"s":3,"t":1973,"v":2},{"s":3,"t":1974,"v":16},{"s":3,"t":1975,"v":6},{"s":3,"t":1976,"v":2},{"s":3,"t":1977,"v":4},{"s":3,"t":1978,"v":6},{"s":3,"t":1979,"v":4},{"s":3,"t":1980,"v":20},{"s":3,"t":1981,"v":3},{"s":3,"t":1982,"v":1},{"s":3,"t":1983,"v":2},{"s":3,"t":1984,"v":3},
{"s":4,"t":1962,"v":4},{"s":4,"t":1963,"v":2},{"s":4,"t":1964,"v":5},{"s":4,"t":1965,"v":18},{"s":4,"t":1966,"v":3},{"s":4,"t":1967,"v":0.5},{"s":4,"t":1968,"v":2},{"s":4,"t":1969,"v":3},{"s":4,"t":1970,"v":16},{"s":4,"t":1971,"v":3},{"s":4,"t":1972,"v":1},{"s":4,"t":1973,"v":5},{"s":4,"t":1974,"v":8},{"s":4,"t":1975,"v":3},{"s":4,"t":1976,"v":1},{"s":4,"t":1977,"v":2},{"s":4,"t":1978,"v":5},{"s":4,"t":1979,"v":7},{"s":4,"t":1980,"v":10},{"s":4,"t":1981,"v":2},{"s":4,"t":1982,"v":1},{"s":4,"t":1983,"v":3},{"s":4,"t":1984,"v":2},
{"s":5,"t":1962,"v":2},{"s":5,"t":1963,"v":9},{"s":5,"t":1964,"v":12},{"s":5,"t":1965,"v":4},{"s":5,"t":1966,"v":2},{"s":5,"t":1967,"v":1},{"s":5,"t":1968,"v":0.5},{"s":5,"t":1969,"v":5},{"s":5,"t":1970,"v":8},{"s":5,"t":1971,"v":1},{"s":5,"t":1972,"v":0.5},{"s":5,"t":1973,"v":1},{"s":5,"t":1974,"v":4},{"s":5,"t":1975,"v":2},{"s":5,"t":1976,"v":1},{"s":5,"t":1977,"v":1},{"s":5,"t":1978,"v":2},{"s":5,"t":1979,"v":3},{"s":5,"t":1980,"v":8},{"s":5,"t":1981,"v":1},{"s":5,"t":1982,"v":0.5},{"s":5,"t":1983,"v":1},{"s":5,"t":1984,"v":1},
{"s":6,"t":1962,"v":5},{"s":6,"t":1963,"v":4},{"s":6,"t":1964,"v":2},{"s":6,"t":1965,"v":8},{"s":6,"t":1966,"v":4},{"s":6,"t":1967,"v":1},{"s":6,"t":1968,"v":1},{"s":6,"t":1969,"v":2},{"s":6,"t":1970,"v":6},{"s":6,"t":1971,"v":2},{"s":6,"t":1972,"v":0.5},{"s":6,"t":1973,"v":3},{"s":6,"t":1974,"v":3},{"s":6,"t":1975,"v":2},{"s":6,"t":1976,"v":0.5},{"s":6,"t":1977,"v":3},{"s":6,"t":1978,"v":4},{"s":6,"t":1979,"v":5},{"s":6,"t":1980,"v":5},{"s":6,"t":1981,"v":1},{"s":6,"t":1982,"v":2},{"s":6,"t":1983,"v":2},{"s":6,"t":1984,"v":4},
{"s":7,"t":1962,"v":1},{"s":7,"t":1963,"v":5},{"s":7,"t":1964,"v":3},{"s":7,"t":1965,"v":12},{"s":7,"t":1966,"v":1},{"s":7,"t":1967,"v":0.5},{"s":7,"t":1968,"v":0.5},{"s":7,"t":1969,"v":1},{"s":7,"t":1970,"v":4},{"s":7,"t":1971,"v":0.5},{"s":7,"t":1972,"v":1},{"s":7,"t":1973,"v":2},{"s":7,"t":1974,"v":2},{"s":7,"t":1975,"v":1},{"s":7,"t":1976,"v":1},{"s":7,"t":1977,"v":0.5},{"s":7,"t":1978,"v":1},{"s":7,"t":1979,"v":2},{"s":7,"t":1980,"v":3},{"s":7,"t":1981,"v":0.5},{"s":7,"t":1982,"v":1},{"s":7,"t":1983,"v":1},{"s":7,"t":1984,"v":1},
{"s":8,"t":1962,"v":2},{"s":8,"t":1963,"v":3},{"s":8,"t":1964,"v":6},{"s":8,"t":1965,"v":3},{"s":8,"t":1966,"v":1},{"s":8,"t":1967,"v":2},{"s":8,"t":1968,"v":1},{"s":8,"t":1969,"v":3},{"s":8,"t":1970,"v":2},{"s":8,"t":1971,"v":1},{"s":8,"t":1972,"v":0.5},{"s":8,"t":1973,"v":2},{"s":8,"t":1974,"v":5},{"s":8,"t":1975,"v":3},{"s":8,"t":1976,"v":1},{"s":8,"t":1977,"v":2},{"s":8,"t":1978,"v":2},{"s":8,"t":1979,"v":2},{"s":8,"t":1980,"v":6},{"s":8,"t":1981,"v":1},{"s":8,"t":1982,"v":1},{"s":8,"t":1983,"v":2},{"s":8,"t":1984,"v":2}
],
"e":[
{"s":1,"t":1962,"v":22.5},{"s":1,"t":1963,"v":5},{"s":1,"t":1964,"v":10},{"s":1,"t":1965,"v":41},{"s":1,"t":1966,"v":3},{"s":1,"t":1967,"v":43},{"s":1,"t":1968,"v":55.5},{"s":1,"t":1969,"v":10},{"s":1,"t":1970,"v":8},{"s":1,"t":1971,"v":6},{"s":1,"t":1972,"v":42.5},{"s":1,"t":1973,"v":10},{"s":1,"t":1974,"v":6},{"s":1,"t":1975,"v":2},{"s":1,"t":1976,"v":8},{"s":1,"t":1977,"v":41.5},{"s":1,"t":1978,"v":38},{"s":1,"t":1979,"v":3},{"s":1,"t":1980,"v":10},{"s":1,"t":1981,"v":20},{"s":1,"t":1982,"v":20},{"s":1,"t":1983,"v":12},{"s":1,"t":1984,"v":2},{"s":1,"t":1985,"v":59.5},{"s":1,"t":1986,"v":50},{"s":1,"t":1987,"v":3},{"s":1,"t":1988,"v":8},{"s":1,"t":1989,"v":28},{"s":1,"t":1990,"v":10},{"s":1,"t":1991,"v":4},{"s":1,"t":1992,"v":3},
{"s":2,"t":1962,"v":19},{"s":2,"t":1963,"v":2},{"s":2,"t":1964,"v":19},{"s":2,"t":1965,"v":24},{"s":2,"t":1966,"v":5},{"s":2,"t":1967,"v":10},{"s":2,"t":1968,"v":37.5},{"s":2,"t":1969,"v":22},{"s":2,"t":1970,"v":44},{"s":2,"t":1971,"v":8},{"s":2,"t":1972,"v":32},{"s":2,"t":1973,"v":35},{"s":2,"t":1974,"v":6},{"s":2,"t":1975,"v":1},{"s":2,"t":1976,"v":27},{"s":2,"t":1977,"v":10},{"s":2,"t":1978,"v":40},{"s":2,"t":1979,"v":1},{"s":2,"t":1980,"v":22},{"s":2,"t":1981,"v":52.5},{"s":2,"t":1982,"v":36},{"s":2,"t":1983,"v":31},{"s":2,"t":1984,"v":3},{"s":2,"t":1985,"v":12},{"s":2,"t":1986,"v":30},{"s":2,"t":1987,"v":2},{"s":2,"t":1988,"v":25},{"s":2,"t":1989,"v":14},{"s":2,"t":1990,"v":18.5},{"s":2,"t":1991,"v":5},{"s":2,"t":1992,"v":2},
{"s":3,"t":1962,"v":12},{"s":3,"t":1963,"v":6},{"s":3,"t":1964,"v":16},{"s":3,"t":1965,"v":20},{"s":3,"t":1966,"v":4},{"s":3,"t":1967,"v":19},{"s":3,"t":1968,"v":28.5},{"s":3,"t":1969,"v":20},{"s":3,"t":1970,"v":10},{"s":3,"t":1971,"v":22},{"s":3,"t":1972,"v":25},{"s":3,"t":1973,"v":12},{"s":3,"t":1974,"v":28.5},{"s":3,"t":1975,"v":3},{"s":3,"t":1976,"v":15},{"s":3,"t":1977,"v":16},{"s":3,"t":1978,"v":31},{"s":3,"t":1979,"v":4},{"s":3,"t":1980,"v":19.5},{"s":3,"t":1981,"v":46},{"s":3,"t":1982,"v":33},{"s":3,"t":1983,"v":20},{"s":3,"t":1984,"v":12},{"s":3,"t":1985,"v":25.5},{"s":3,"t":1986,"v":10},{"s":3,"t":1987,"v":2},{"s":3,"t":1988,"v":20},{"s":3,"t":1989,"v":22},{"s":3,"t":1990,"v":8},{"s":3,"t":1991,"v":3},{"s":3,"t":1992,"v":5},
{"s":4,"t":1962,"v":8},{"s":4,"t":1963,"v":3},{"s":4,"t":1964,"v":12},{"s":4,"t":1965,"v":8},{"s":4,"t":1966,"v":2},{"s":4,"t":1967,"v":6},{"s":4,"t":1968,"v":12},{"s":4,"t":1969,"v":15},{"s":4,"t":1970,"v":5},{"s":4,"t":1971,"v":12},{"s":4,"t":1972,"v":18},{"s":4,"t":1973,"v":8},{"s":4,"t":1974,"v":20},{"s":4,"t":1975,"v":2},{"s":4,"t":1976,"v":5},{"s":4,"t":1977,"v":6},{"s":4,"t":1978,"v":20},{"s":4,"t":1979,"v":2},{"s":4,"t":1980,"v":8},{"s":4,"t":1981,"v":35.5},{"s":4,"t":1982,"v":28},{"s":4,"t":1983,"v":10},{"s":4,"t":1984,"v":1},{"s":4,"t":1985,"v":5},{"s":4,"t":1986,"v":12},{"s":4,"t":1987,"v":1},{"s":4,"t":1988,"v":6},{"s":4,"t":1989,"v":18},{"s":4,"t":1990,"v":12},{"s":4,"t":1991,"v":2},{"s":4,"t":1992,"v":4},
{"s":5,"t":1962,"v":5},{"s":5,"t":1963,"v":4},{"s":5,"t":1964,"v":6},{"s":5,"t":1965,"v":14},{"s":5,"t":1966,"v":6},{"s":5,"t":1967,"v":8},{"s":5,"t":1968,"v":18},{"s":5,"t":1969,"v":6},{"s":5,"t":1970,"v":15},{"s":5,"t":1971,"v":4},{"s":5,"t":1972,"v":12},{"s":5,"t":1973,"v":20},{"s":5,"t":1974,"v":10},{"s":5,"t":1975,"v":1},{"s":5,"t":1976,"v":12},{"s":5,"t":1977,"v":4},{"s":5,"t":1978,"v":14},{"s":5,"t":1979,"v":6},{"s":5,"t":1980,"v":5},{"s":5,"t":1981,"v":28},{"s":5,"t":1982,"v":15},{"s":5,"t":1983,"v":25},{"s":5,"t":1984,"v":4},{"s":5,"t":1985,"v":8},{"s":5,"t":1986,"v":18},{"s":5,"t":1987,"v":3},{"s":5,"t":1988,"v":12},{"s":5,"t":1989,"v":8},{"s":5,"t":1990,"v":5},{"s":5,"t":1991,"v":5},{"s":5,"t":1992,"v":1},
{"s":6,"t":1962,"v":3},{"s":6,"t":1963,"v":2},{"s":6,"t":1964,"v":4},{"s":6,"t":1965,"v":5},{"s":6,"t":1966,"v":1},{"s":6,"t":1967,"v":3},{"s":6,"t":1968,"v":6},{"s":6,"t":1969,"v":3},{"s":6,"t":1970,"v":2},{"s":6,"t":1971,"v":5},{"s":6,"t":1972,"v":4},{"s":6,"t":1973,"v":3},{"s":6,"t":1974,"v":6},{"s":6,"t":1975,"v":0.5},{"s":6,"t":1976,"v":2},{"s":6,"t":1977,"v":3},{"s":6,"t":1978,"v":5},{"s":6,"t":1979,"v":1},{"s":6,"t":1980,"v":2},{"s":6,"t":1981,"v":8},{"s":6,"t":1982,"v":6},{"s":6,"t":1983,"v":4},{"s":6,"t":1984,"v":0.5},{"s":6,"t":1985,"v":2},{"s":6,"t":1986,"v":4},{"s":6,"t":1987,"v":0.5},{"s":6,"t":1988,"v":3},{"s":6,"t":1989,"v":5},{"s":6,"t":1990,"v":3},{"s":6,"t":1991,"v":1},{"s":6,"t":1992,"v":1},
{"s":7,"t":1962,"v":10},{"s":7,"t":1963,"v":8},{"s":7,"t":1964,"v":8},{"s":7,"t":1965,"v":10},{"s":7,"t":1966,"v":8},{"s":7,"t":1967,"v":14},{"s":7,"t":1968,"v":9},{"s":7,"t":1969,"v":12},{"s":7,"t":1970,"v":17},{"s":7,"t":1971,"v":15},{"s":7,"t":1972,"v":8},{"s":7,"t":1973,"v":16},{"s":7,"t":1974,"v":14},{"s":7,"t":1975,"v":5},{"s":7,"t":1976,"v":10},{"s":7,"t":1977,"v":12},{"s":7,"t":1978,"v":9},{"s":7,"t":1979,"v":8},{"s":7,"t":1980,"v":12},{"s":7,"t":1981,"v":14},{"s":7,"t":1982,"v":10},{"s":7,"t":1983,"v":18},{"s":7,"t":1984,"v":6},{"s":7,"t":1985,"v":13},{"s":7,"t":1986,"v":8},{"s":7,"t":1987,"v":4},{"s":7,"t":1988,"v":15},{"s":7,"t":1989,"v":10},{"s":7,"t":1990,"v":14},{"s":7,"t":1991,"v":3},{"s":7,"t":1992,"v":2},
{"s":8,"t":1962,"v":6},{"s":8,"t":1963,"v":1},{"s":8,"t":1964,"v":9},{"s":8,"t":1965,"v":17},{"s":8,"t":1966,"v":3},{"s":8,"t":1967,"v":12},{"s":8,"t":1968,"v":22},{"s":8,"t":1969,"v":9},{"s":8,"t":1970,"v":12},{"s":8,"t":1971,"v":18},{"s":8,"t":1972,"v":14},{"s":8,"t":1973,"v":6},{"s":8,"t":1974,"v":9},{"s":8,"t":1975,"v":1},{"s":8,"t":1976,"v":20},{"s":8,"t":1977,"v":8},{"s":8,"t":1978,"v":26},{"s":8,"t":1979,"v":3},{"s":8,"t":1980,"v":15},{"s":8,"t":1981,"v":40},{"s":8,"t":1982,"v":22},{"s":8,"t":1983,"v":15},{"s":8,"t":1984,"v":2},{"s":8,"t":1985,"v":10},{"s":8,"t":1986,"v":6},{"s":8,"t":1987,"v":1},{"s":8,"t":1988,"v":18},{"s":8,"t":1989,"v":20},{"s":8,"t":1990,"v":6},{"s":8,"t":1991,"v":2},{"s":8,"t":1992,"v":3},
{"s":9,"t":1962,"v":4},{"s":9,"t":1963,"v":2},{"s":9,"t":1964,"v":7},{"s":9,"t":1965,"v":9},{"s":9,"t":1966,"v":2},{"s":9,"t":1967,"v":5},{"s":9,"t":1968,"v":10},{"s":9,"t":1969,"v":4},{"s":9,"t":1970,"v":6},{"s":9,"t":1971,"v":8},{"s":9,"t":1972,"v":6},{"s":9,"t":1973,"v":4},{"s":9,"t":1974,"v":8},{"s":9,"t":1975,"v":1},{"s":9,"t":1976,"v":6},{"s":9,"t":1977,"v":3},{"s":9,"t":1978,"v":12},{"s":9,"t":1979,"v":2},{"s":9,"t":1980,"v":6},{"s":9,"t":1981,"v":16},{"s":9,"t":1982,"v":12},{"s":9,"t":1983,"v":8},{"s":9,"t":1984,"v":1},{"s":9,"t":1985,"v":4},{"s":9,"t":1986,"v":8},{"s":9,"t":1987,"v":1},{"s":9,"t":1988,"v":5},{"s":9,"t":1989,"v":10},{"s":9,"t":1990,"v":4},{"s":9,"t":1991,"v":1},{"s":9,"t":1992,"v":2},
{"s":10,"t":1962,"v":2},{"s":10,"t":1963,"v":1},{"s":10,"t":1964,"v":3},{"s":10,"t":1965,"v":4},{"s":10,"t":1966,"v":2},{"s":10,"t":1967,"v":2},{"s":10,"t":1968,"v":4},{"s":10,"t":1969,"v":2},{"s":10,"t":1970,"v":3},{"s":10,"t":1971,"v":3},{"s":10,"t":1972,"v":3},{"s":10,"t":1973,"v":2},{"s":10,"t":1974,"v":4},{"s":10,"t":1975,"v":0.5},{"s":10,"t":1976,"v":3},{"s":10,"t":1977,"v":2},{"s":10,"t":1978,"v":8},{"s":10,"t":1979,"v":1},{"s":10,"t":1980,"v":3},{"s":10,"t":1981,"v":10},{"s":10,"t":1982,"v":5},{"s":10,"t":1983,"v":3},{"s":10,"t":1984,"v":0.5},{"s":10,"t":1985,"v":2},{"s":10,"t":1986,"v":3},{"s":10,"t":1987,"v":0.5},{"s":10,"t":1988,"v":2},{"s":10,"t":1989,"v":4},{"s":10,"t":1990,"v":2},{"s":10,"t":1991,"v":0.5},{"s":10,"t":1992,"v":1},
{"s":11,"t":1962,"v":14},{"s":11,"t":1963,"v":4},{"s":11,"t":1964,"v":11},{"s":11,"t":1965,"v":6},{"s":11,"t":1966,"v":4},{"s":11,"t":1967,"v":9},{"s":11,"t":1968,"v":7},{"s":11,"t":1969,"v":14},{"s":11,"t":1970,"v":9},{"s":11,"t":1971,"v":12},{"s":11,"t":1972,"v":10},{"s":11,"t":1973,"v":7},{"s":11,"t":1974,"v":11},{"s":11,"t":1975,"v":3},{"s":11,"t":1976,"v":8},{"s":11,"t":1977,"v":9},{"s":11,"t":1978,"v":16},{"s":11,"t":1979,"v":5},{"s":11,"t":1980,"v":9},{"s":11,"t":1981,"v":24},{"s":11,"t":1982,"v":18},{"s":11,"t":1983,"v":12},{"s":11,"t":1984,"v":4},{"s":11,"t":1985,"v":6},{"s":11,"t":1986,"v":10},{"s":11,"t":1987,"v":2},{"s":11,"t":1988,"v":9},{"s":11,"t":1989,"v":16},{"s":11,"t":1990,"v":10},{"s":11,"t":1991,"v":3},{"s":11,"t":1992,"v":3}
],
"f":[
{"s":1,"t":1962,"v":24.5},{"s":1,"t":1963,"v":30.5},{"s":1,"t":1964,"v":5},{"s":1,"t":1965,"v":10},{"s":1,"t":1966,"v":4},{"s":1,"t":1967,"v":2},{"s":1,"t":1968,"v":3},{"s":1,"t":1969,"v":2},{"s":1,"t":1970,"v":5},{"s":1,"t":1971,"v":2},{"s":1,"t":1972,"v":26.5},{"s":1,"t":1973,"v":27},{"s":1,"t":1974,"v":45},{"s":1,"t":1975,"v":33},{"s":1,"t":1976,"v":17},{"s":1,"t":1977,"v":69},{"s":1,"t":1978,"v":59.5},{"s":1,"t":1979,"v":3},{"s":1,"t":1980,"v":33.5},{"s":1,"t":1981,"v":43},{"s":1,"t":1982,"v":25},{"s":1,"t":1983,"v":10},{"s":1,"t":1984,"v":7.5},
{"s":2,"t":1962,"v":27},{"s":2,"t":1963,"v":8},{"s":2,"t":1964,"v":2},{"s":2,"t":1965,"v":36.5},{"s":2,"t":1966,"v":12},{"s":2,"t":1967,"v":2},{"s":2,"t":1968,"v":14},{"s":2,"t":1969,"v":5},{"s":2,"t":1970,"v":25.5},{"s":2,"t":1971,"v":4},{"s":2,"t":1972,"v":14},{"s":2,"t":1973,"v":9},{"s":2,"t":1974,"v":22},{"s":2,"t":1975,"v":37},{"s":2,"t":1976,"v":4},{"s":2,"t":1977,"v":8},{"s":2,"t":1978,"v":26},{"s":2,"t":1979,"v":2},{"s":2,"t":1980,"v":10},{"s":2,"t":1981,"v":18},{"s":2,"t":1982,"v":12},{"s":2,"t":1983,"v":16},{"s":2,"t":1984,"v":13.5},
{"s":3,"t":1962,"v":14},{"s":3,"t":1963,"v":6},{"s":3,"t":1964,"v":2},{"s":3,"t":1965,"v":27.5},{"s":3,"t":1966,"v":15},{"s":3,"t":1967,"v":3},{"s":3,"t":1968,"v":2},{"s":3,"t":1969,"v":4},{"s":3,"t":1970,"v":18},{"s":3,"t":1971,"v":5},{"s":3,"t":1972,"v":2},{"s":3,"t":1973,"v":20},{"s":3,"t":1974,"v":20},{"s":3,"t":1975,"v":28},{"s":3,"t":1976,"v":5},{"s":3,"t":1977,"v":3},{"s":3,"t":1978,"v":14},{"s":3,"t":1979,"v":26},{"s":3,"t":1980,"v":18},{"s":3,"t":1981,"v":12},{"s":3,"t":1982,"v":20},{"s":3,"t":1983,"v":6},{"s":3,"t":1984,"v":3},
{"s":4,"t":1962,"v":12},{"s":4,"t":1963,"v":4},{"s":4,"t":1964,"v":1},{"s":4,"t":1965,"v":22},{"s":4,"t":1966,"v":8},{"s":4,"t":1967,"v":1},{"s":4,"t":1968,"v":2},{"s":4,"t":1969,"v":6},{"s":4,"t":1970,"v":12},{"s":4,"t":1971,"v":2},{"s":4,"t":1972,"v":4},{"s":4,"t":1973,"v":8},{"s":4,"t":1974,"v":14},{"s":4,"t":1975,"v":25},{"s":4,"t":1976,"v":2},{"s":4,"t":1977,"v":6},{"s":4,"t":1978,"v":20},{"s":4,"t":1979,"v":2},{"s":4,"t":1980,"v":8},{"s":4,"t":1981,"v":15},{"s":4,"t":1982,"v":8},{"s":4,"t":1983,"v":4},{"s":4,"t":1984,"v":2},
{"s":5,"t":1962,"v":6},{"s":5,"t":1963,"v":10},{"s":5,"t":1964,"v":3},{"s":5,"t":1965,"v":14},{"s":5,"t":1966,"v":6},{"s":5,"t":1967,"v":2},{"s":5,"t":1968,"v":5},{"s":5,"t":1969,"v":8},{"s":5,"t":1970,"v":10},{"s":5,"t":1971,"v":3},{"s":5,"t":1972,"v":3},{"s":5,"t":1973,"v":5},{"s":5,"t":1974,"v":18},{"s":5,"t":1975,"v":20},{"s":5,"t":1976,"v":3},{"s":5,"t":1977,"v":2},{"s":5,"t":1978,"v":10},{"s":5,"t":1979,"v":5},{"s":5,"t":1980,"v":12},{"s":5,"t":1981,"v":9},{"s":5,"t":1982,"v":4},{"s":5,"t":1983,"v":2},{"s":5,"t":1984,"v":1},
{"s":6,"t":1962,"v":3},{"s":6,"t":1963,"v":2},{"s":6,"t":1964,"v":1},{"s":6,"t":1965,"v":6},{"s":6,"t":1966,"v":3},{"s":6,"t":1967,"v":1},{"s":6,"t":1968,"v":1},{"s":6,"t":1969,"v":2},{"s":6,"t":1970,"v":4},{"s":6,"t":1971,"v":1},{"s":6,"t":1972,"v":1},{"s":6,"t":1973,"v":2},{"s":6,"t":1974,"v":5},{"s":6,"t":1975,"v":8},{"s":6,"t":1976,"v":1},{"s":6,"t":1977,"v":1},{"s":6,"t":1978,"v":4},{"s":6,"t":1979,"v":1},{"s":6,"t":1980,"v":3},{"s":6,"t":1981,"v":4},{"s":6,"t":1982,"v":2},{"s":6,"t":1983,"v":1},{"s":6,"t":1984,"v":1},
{"s":7,"t":1962,"v":8},{"s":7,"t":1963,"v":5},{"s":7,"t":1964,"v":2},{"s":7,"t":1965,"v":18},{"s":7,"t":1966,"v":10},{"s":7,"t":1967,"v":4},{"s":7,"t":1968,"v":3},{"s":7,"t":1969,"v":3},{"s":7,"t":1970,"v":14},{"s":7,"t":1971,"v":2},{"s":7,"t":1972,"v":2},{"s":7,"t":1973,"v":6},{"s":7,"t":1974,"v":10},{"s":7,"t":1975,"v":15},{"s":7,"t":1976,"v":2},{"s":7,"t":1977,"v":3},{"s":7,"t":1978,"v":8},{"s":7,"t":1979,"v":2},{"s":7,"t":1980,"v":6},{"s":7,"t":1981,"v":10},{"s":7,"t":1982,"v":5},{"s":7,"t":1983,"v":3},{"s":7,"t":1984,"v":2},
{"s":8,"t":1962,"v":4},{"s":8,"t":1963,"v":2},{"s":8,"t":1964,"v":1},{"s":8,"t":1965,"v":10},{"s":8,"t":1966,"v":5},{"s":8,"t":1967,"v":2},{"s":8,"t":1968,"v":2},{"s":8,"t":1969,"v":1},{"s":8,"t":1970,"v":8},{"s":8,"t":1971,"v":1},{"s":8,"t":1972,"v":1},{"s":8,"t":1973,"v":3},{"s":8,"t":1974,"v":8},{"s":8,"t":1975,"v":12},{"s":8,"t":1976,"v":1},{"s":8,"t":1977,"v":2},{"s":8,"t":1978,"v":6},{"s":8,"t":1979,"v":1},{"s":8,"t":1980,"v":4},{"s":8,"t":1981,"v":6},{"s":8,"t":1982,"v":3},{"s":8,"t":1983,"v":2},{"s":8,"t":1984,"v":1},
{"s":9,"t":1962,"v":2},{"s":9,"t":1963,"v":1},{"s":9,"t":1964,"v":1},{"s":9,"t":1965,"v":4},{"s":9,"t":1966,"v":2},{"s":9,"t":1967,"v":1},{"s":9,"t":1968,"v":0.5},{"s":9,"t":1969,"v":1},{"s":9,"t":1970,"v":2},{"s":9,"t":1971,"v":0.5},{"s":9,"t":1972,"v":0.5},{"s":9,"t":1973,"v":1},{"s":9,"t":1974,"v":2},{"s":9,"t":1975,"v":4},{"s":9,"t":1976,"v":0.5},{"s":9,"t":1977,"v":0.5},{"s":9,"t":1978,"v":2},{"s":9,"t":1979,"v":0.5},{"s":9,"t":1980,"v":2},{"s":9,"t":1981,"v":2},{"s":9,"t":1982,"v":1},{"s":9,"t":1983,"v":0.5},{"s":9,"t":1984,"v":0.5},
{"s":10,"t":1962,"v":10},{"s":10,"t":1963,"v":3},{"s":10,"t":1964,"v":2},{"s":10,"t":1965,"v":8},{"s":10,"t":1966,"v":4},{"s":10,"t":1967,"v":1},{"s":10,"t":1968,"v":2},{"s":10,"t":1969,"v":4},{"s":10,"t":1970,"v":6},{"s":10,"t":1971,"v":1},{"s":10,"t":1972,"v":2},{"s":10,"t":1973,"v":4},{"s":10,"t":1974,"v":12},{"s":10,"t":1975,"v":18},{"s":10,"t":1976,"v":3},{"s":10,"t":1977,"v":2},{"s":10,"t":1978,"v":12},{"s":10,"t":1979,"v":3},{"s":10,"t":1980,"v":8},{"s":10,"t":1981,"v":6},{"s":10,"t":1982,"v":2},{"s":10,"t":1983,"v":2},{"s":10,"t":1984,"v":1}
],
"g":[
{"s":1,"t":1962,"v":15},{"s":1,"t":1963,"v":4},{"s":1,"t":1964,"v":2},{"s":1,"t":1965,"v":3},{"s":1,"t":1966,"v":2},{"s":1,"t":1967,"v":1},{"s":1,"t":1968,"v":2},{"s":1,"t":1969,"v":4},{"s":1,"t":1970,"v":16.5},{"s":1,"t":1971,"v":32.5},{"s":1,"t":1972,"v":6},{"s":1,"t":1973,"v":8},{"s":1,"t":1974,"v":35},{"s":1,"t":1975,"v":10},{"s":1,"t":1976,"v":3},{"s":1,"t":1977,"v":30},{"s":1,"t":1978,"v":21.5},{"s":1,"t":1979,"v":10},{"s":1,"t":1980,"v":33.5},{"s":1,"t":1981,"v":12},{"s":1,"t":1982,"v":8},{"s":1,"t":1983,"v":6},{"s":1,"t":1984,"v":4},
{"s":2,"t":1962,"v":8.5},{"s":2,"t":1963,"v":10},{"s":2,"t":1964,"v":17.5},{"s":2,"t":1965,"v":14},{"s":2,"t":1966,"v":11},{"s":2,"t":1967,"v":5},{"s":2,"t":1968,"v":6},{"s":2,"t":1969,"v":8},{"s":2,"t":1970,"v":10},{"s":2,"t":1971,"v":8},{"s":2,"t":1972,"v":14},{"s":2,"t":1973,"v":16.5},{"s":2,"t":1974,"v":23.5},{"s":2,"t":1975,"v":22},{"s":2,"t":1976,"v":6},{"s":2,"t":1977,"v":8},{"s":2,"t":1978,"v":16.5},{"s":2,"t":1979,"v":14},{"s":2,"t":1980,"v":17},{"s":2,"t":1981,"v":19.5},{"s":2,"t":1982,"v":25.5},{"s":2,"t":1983,"v":10},{"s":2,"t":1984,"v":13},
{"s":3,"t":1962,"v":2},{"s":3,"t":1963,"v":3},{"s":3,"t":1964,"v":1},{"s":3,"t":1965,"v":6},{"s":3,"t":1966,"v":8},{"s":3,"t":1967,"v":3},{"s":3,"t":1968,"v":5},{"s":3,"t":1969,"v":17},{"s":3,"t":1970,"v":6},{"s":3,"t":1971,"v":10},{"s":3,"t":1972,"v":4},{"s":3,"t":1973,"v":6},{"s":3,"t":1974,"v":12},{"s":3,"t":1975,"v":8},{"s":3,"t":1976,"v":2},{"s":3,"t":1977,"v":20},{"s":3,"t":1978,"v":10},{"s":3,"t":1979,"v":6},{"s":3,"t":1980,"v":8},{"s":3,"t":1981,"v":17},{"s":3,"t":1982,"v":12},{"s":3,"t":1983,"v":22.5},{"s":3,"t":1984,"v":10},
{"s":4,"t":1962,"v":1},{"s":4,"t":1963,"v":1},{"s":4,"t":1964,"v":2},{"s":4,"t":1965,"v":1},{"s":4,"t":1966,"v":3},{"s":4,"t":1967,"v":2},{"s":4,"t":1968,"v":2},{"s":4,"t":1969,"v":14},{"s":4,"t":1970,"v":5},{"s":4,"t":1971,"v":4},{"s":4,"t":1972,"v":6},{"s":4,"t":1973,"v":10},{"s":4,"t":1974,"v":16},{"s":4,"t":1975,"v":6},{"s":4,"t":1976,"v":2},{"s":4,"t":1977,"v":5},{"s":4,"t":1978,"v":8},{"s":4,"t":1979,"v":10},{"s":4,"t":1980,"v":14},{"s":4,"t":1981,"v":6},{"s":4,"t":1982,"v":16},{"s":4,"t":1983,"v":9},{"s":4,"t":1984,"v":12},
{"s":5,"t":1962,"v":3},{"s":5,"t":1963,"v":2},{"s":5,"t":1964,"v":3},{"s":5,"t":1965,"v":2},{"s":5,"t":1966,"v":1},{"s":5,"t":1967,"v":2},{"s":5,"t":1968,"v":3},{"s":5,"t":1969,"v":5},{"s":5,"t":1970,"v":4},{"s":5,"t":1971,"v":6},{"s":5,"t":1972,"v":3},{"s":5,"t":1973,"v":4},{"s":5,"t":1974,"v":6},{"s":5,"t":1975,"v":5},{"s":5,"t":1976,"v":2},{"s":5,"t":1977,"v":4},{"s":5,"t":1978,"v":6},{"s":5,"t":1979,"v":5},{"s":5,"t":1980,"v":6},{"s":5,"t":1981,"v":8},{"s":5,"t":1982,"v":6},{"s":5,"t":1983,"v":5},{"s":5,"t":1984,"v":4},
{"s":6,"t":1962,"v":0.5},{"s":6,"t":1963,"v":1},{"s":6,"t":1964,"v":0.5},{"s":6,"t":1965,"v":1},{"s":6,"t":1966,"v":0.5},{"s":6,"t":1967,"v":1},{"s":6,"t":1968,"v":1},{"s":6,"t":1969,"v":2},{"s":6,"t":1970,"v":2},{"s":6,"t":1971,"v":3},{"s":6,"t":1972,"v":2},{"s":6,"t":1973,"v":1},{"s":6,"t":1974,"v":2},{"s":6,"t":1975,"v":3},{"s":6,"t":1976,"v":1},{"s":6,"t":1977,"v":2},{"s":6,"t":1978,"v":3},{"s":6,"t":1979,"v":2},{"s":6,"t":1980,"v":2},{"s":6,"t":1981,"v":3},{"s":6,"t":1982,"v":2},{"s":6,"t":1983,"v":1},{"s":6,"t":1984,"v":1},
{"s":7,"t":1962,"v":4},{"s":7,"t":1963,"v":2},{"s":7,"t":1964,"v":6},{"s":7,"t":1965,"v":4},{"s":7,"t":1966,"v":2},{"s":7,"t":1967,"v":4},{"s":7,"t":1968,"v":6},{"s":7,"t":1969,"v":8},{"s":7,"t":1970,"v":6},{"s":7,"t":1971,"v":5},{"s":7,"t":1972,"v":8},{"s":7,"t":1973,"v":12},{"s":7,"t":1974,"v":8},{"s":7,"t":1975,"v":16},{"s":7,"t":1976,"v":4},{"s":7,"t":1977,"v":12},{"s":7,"t":1978,"v":6},{"s":7,"t":1979,"v":8},{"s":7,"t":1980,"v":12},{"s":7,"t":1981,"v":10},{"s":7,"t":1982,"v":18},{"s":7,"t":1983,"v":14},{"s":7,"t":1984,"v":8},
{"s":8,"t":1962,"v":2},{"s":8,"t":1963,"v":2},{"s":8,"t":1964,"v":3},{"s":8,"t":1965,"v":3},{"s":8,"t":1966,"v":4},{"s":8,"t":1967,"v":2},{"s":8,"t":1968,"v":3},{"s":8,"t":1969,"v":6},{"s":8,"t":1970,"v":8},{"s":8,"t":1971,"v":6},{"s":8,"t":1972,"v":5},{"s":8,"t":1973,"v":4},{"s":8,"t":1974,"v":9},{"s":8,"t":1975,"v":4},{"s":8,"t":1976,"v":3},{"s":8,"t":1977,"v":8},{"s":8,"t":1978,"v":10},{"s":8,"t":1979,"v":6},{"s":8,"t":1980,"v":9},{"s":8,"t":1981,"v":12},{"s":8,"t":1982,"v":10},{"s":8,"t":1983,"v":8},{"s":8,"t":1984,"v":6},
{"s":9,"t":1962,"v":1},{"s":9,"t":1963,"v":0.5},{"s":9,"t":1964,"v":1},{"s":9,"t":1965,"v":2},{"s":9,"t":1966,"v":1},{"s":9,"t":1967,"v":1},{"s":9,"t":1968,"v":1},{"s":9,"t":1969,"v":3},{"s":9,"t":1970,"v":3},{"s":9,"t":1971,"v":4},{"s":9,"t":1972,"v":3},{"s":9,"t":1973,"v":2},{"s":9,"t":1974,"v":4},{"s":9,"t":1975,"v":6},{"s":9,"t":1976,"v":1},{"s":9,"t":1977,"v":3},{"s":9,"t":1978,"v":4},{"s":9,"t":1979,"v":4},{"s":9,"t":1980,"v":5},{"s":9,"t":1981,"v":5},{"s":9,"t":1982,"v":8},{"s":9,"t":1983,"v":4},{"s":9,"t":1984,"v":2},
{"s":10,"t":1962,"v":5},{"s":10,"t":1963,"v":3},{"s":10,"t":1964,"v":2},{"s":10,"t":1965,"v":4},{"s":10,"t":1966,"v":3},{"s":10,"t":1967,"v":3},{"s":10,"t":1968,"v":5},{"s":10,"t":1969,"v":4},{"s":10,"t":1970,"v":7},{"s":10,"t":1971,"v":9},{"s":10,"t":1972,"v":6},{"s":10,"t":1973,"v":8},{"s":10,"t":1974,"v":10},{"s":10,"t":1975,"v":8},{"s":10,"t":1976,"v":4},{"s":10,"t":1977,"v":6},{"s":10,"t":1978,"v":8},{"s":10,"t":1979,"v":12},{"s":10,"t":1980,"v":16},{"s":10,"t":1981,"v":8},{"s":10,"t":1982,"v":10},{"s":10,"t":1983,"v":6},{"s":10,"t":1984,"v":11}
],
"box":[
{"g":"I","lo":-0.168,"q1":0.191,"med":0.325,"q3":0.459,"hi":0.812,"let":"a"},
{"g":"II","lo":0.157,"q1":0.449,"med":0.567,"q3":0.666,"hi":0.898,"let":"b"},
{"g":"III","lo":0.038,"q1":0.411,"med":0.558,"q3":0.669,"hi":0.869,"let":"b"},
{"g":"IV","lo":-0.248,"q1":0.16,"med":0.43,"q3":0.573,"hi":0.828,"let":"ac"},
{"g":"V","lo":-0.041,"q1":0.315,"med":0.468,"q3":0.58,"hi":0.876,"let":"c"},
{"g":"VII","lo":-0.359,"q1":0.128,"med":0.341,"q3":0.51,"hi":0.764,"let":"a"},
{"g":"VIII","lo":-0.388,"q1":-0.01,"med":0.128,"q3":0.265,"hi":0.663,"let":"d"}
],
"out":[
{"g":"I","v":0.854},{"g":"I","v":-0.23},{"g":"I","v":-0.245},{"g":"I","v":-0.325},
{"g":"II","v":0.12},{"g":"II","v":0.1},{"g":"II","v":0.085},{"g":"II","v":0.07},{"g":"II","v":0.05},{"g":"II","v":0.03},{"g":"II","v":0.01},{"g":"II","v":-0.005},
{"g":"V","v":-0.12},{"g":"V","v":-0.155},{"g":"V","v":-0.19},
{"g":"VII","v":-0.525},
{"g":"VIII","v":0.78},{"g":"VIII","v":0.755},{"g":"VIII","v":0.725},{"g":"VIII","v":-0.44},{"g":"VIII","v":-0.47},{"g":"VIII","v":-0.5},{"g":"VIII","v":-0.53},{"g":"VIII","v":-0.56},{"g":"VIII","v":-0.585}
]
},
"spacing":7,
"hconcat":[
{"bounds":"flush","spacing":111,"vconcat":[
{"width":364,"height":225,"title":{"text":"(a) Group I","offset":14},"data":{"name":"a"},"layer":[
{"mark":{"type":"line","color":"black","strokeWidth":2},"encoding":{
"x":{"field":"t","type":"quantitative","scale":{"domain":[1960.8,1993.2],"nice":false,"zero":false},"axis":{"values":[1965,1970,1975,1980,1985,1990],"format":"d","labelExpr":"datum.value % 10 == 5 ? datum.label : ''","title":null,"labelPadding":9,"labelDx":-4}},
"y":{"field":"v","type":"quantitative","scale":{"domain":[-2.8,72.8],"nice":false,"zero":false},"axis":{"values":[0,10,20,30,40,50,60,70],"labelExpr":"datum.value % 20 == 0 ? datum.label : ''","title":"Vole density","titleX":-65.7,"labelPadding":11}},
"detail":{"field":"s","type":"nominal"}}},
{"data":{"values":[{"txt":"Mean = 7.52\nVar = 52.45"}]},"mark":{"type":"text","align":"left","baseline":"alphabetic","fontSize":23.5,"lineHeight":23.5,"lineBreak":"\n"},"encoding":{"x":{"datum":1980.1},"y":{"datum":62.7},"text":{"field":"txt"}}}
]},
{"width":364,"height":233,"title":{"text":"(c) Group III","offset":12.7},"data":{"name":"c"},"layer":[
{"mark":{"type":"line","color":"#61D04F","strokeWidth":2},"encoding":{
"x":{"field":"t","type":"quantitative","scale":{"domain":[1960.8,1993.2],"nice":false,"zero":false},"axis":{"values":[1965,1970,1975,1980,1985,1990],"format":"d","labelExpr":"datum.value % 10 == 5 ? datum.label : ''","title":null,"labelPadding":9,"labelDx":-4}},
"y":{"field":"v","type":"quantitative","scale":{"domain":[-3.3,74.9],"nice":false,"zero":false},"axis":{"values":[0,10,20,30,40,50,60,70],"labelExpr":"datum.value % 20 == 0 ? datum.label : ''","title":"Vole density","titleX":-65,"labelPadding":11}},
"detail":{"field":"s","type":"nominal"}}},
{"data":{"values":[{"txt":"Mean = 6.43\nVar = 77.00"}]},"mark":{"type":"text","align":"left","baseline":"alphabetic","fontSize":23.5,"lineHeight":23.5,"lineBreak":"\n"},"encoding":{"x":{"datum":1962.25},"y":{"datum":65.9},"text":{"field":"txt"}}}
]},
{"width":364,"height":225,"title":{"text":"(e) Group V","offset":16.3},"data":{"name":"e"},"layer":[
{"mark":{"type":"line","color":"#6CD3D4","strokeWidth":2},"encoding":{
"x":{"field":"t","type":"quantitative","scale":{"domain":[1960.8,1993.2],"nice":false,"zero":false},"axis":{"values":[1965,1970,1975,1980,1985,1990],"format":"d","labelExpr":"datum.value % 10 == 5 ? datum.label : ''","title":null,"labelPadding":9,"labelDx":-4}},
"y":{"field":"v","type":"quantitative","scale":{"domain":[-2.8,72.8],"nice":false,"zero":false},"axis":{"values":[0,10,20,30,40,50,60,70],"labelExpr":"datum.value % 20 == 0 ? datum.label : ''","title":"Vole density","titleX":-58.3,"labelPadding":5}},
"detail":{"field":"s","type":"nominal"}}},
{"data":{"values":[{"txt":"Mean = 8.11\nVar = 79.60"}]},"mark":{"type":"text","align":"left","baseline":"alphabetic","fontSize":23.5,"lineHeight":23.5,"lineBreak":"\n"},"encoding":{"x":{"datum":1963.68},"y":{"datum":64.3},"text":{"field":"txt"}}}
]},
{"width":364,"height":225,"title":{"text":"(g) Group VIII","offset":14.7},"data":{"name":"g"},"layer":[
{"mark":{"type":"line","color":"#9E9E9E","strokeWidth":2},"encoding":{
"x":{"field":"t","type":"quantitative","scale":{"domain":[1960.8,1993.2],"nice":false,"zero":false},"axis":{"values":[1965,1970,1975,1980,1985,1990],"format":"d","labelExpr":"datum.value % 10 == 5 ? datum.label : ''","title":"Year","titleX":191,"titleY":80,"titleBaseline":"alphabetic","labelPadding":9,"labelDx":-4}},
"y":{"field":"v","type":"quantitative","scale":{"domain":[-2.8,72.8],"nice":false,"zero":false},"axis":{"values":[0,10,20,30,40,50,60,70],"labelExpr":"datum.value % 20 == 0 ? datum.label : ''","title":"Vole density","titleX":-58.3,"labelPadding":5}},
"detail":{"field":"s","type":"nominal"}}},
{"data":{"values":[{"txt":"Mean = 5.14\nVar = 22.86"}]},"mark":{"type":"text","align":"left","baseline":"alphabetic","fontSize":23.5,"lineHeight":23.5,"lineBreak":"\n"},"encoding":{"x":{"datum":1980.75},"y":{"datum":57.9},"text":{"field":"txt"}}}
]}
]},
{"bounds":"flush","spacing":114,"vconcat":[
{"width":364,"height":225,"title":{"text":"(b) Group II","offset":16.3},"data":{"name":"b"},"layer":[
{"mark":{"type":"line","color":"#DF536B","strokeWidth":2},"encoding":{
"x":{"field":"t","type":"quantitative","scale":{"domain":[1960.8,1993.2],"nice":false,"zero":false},"axis":{"values":[1965,1970,1975,1980,1985,1990],"format":"d","labelExpr":"datum.value % 10 == 5 ? datum.label : ''","title":null,"labelPadding":9,"labelDx":-4}},
"y":{"field":"v","type":"quantitative","scale":{"domain":[-2.8,72.8],"nice":false,"zero":false},"axis":{"values":[0,10,20,30,40,50,60,70],"labelExpr":"datum.value % 20 == 0 ? datum.label : ''","title":"Vole density","titleX":-60.7,"labelPadding":7}},
"detail":{"field":"s","type":"nominal"}}},
{"data":{"values":[{"txt":"Mean = 7.06\nVar = 47.36"}]},"mark":{"type":"text","align":"left","baseline":"alphabetic","fontSize":23.5,"lineHeight":23.5,"lineBreak":"\n"},"encoding":{"x":{"datum":1980.57},"y":{"datum":57.7},"text":{"field":"txt"}}}
]},
{"width":364,"height":225,"title":{"text":"(d) Group IV","offset":18.3},"data":{"name":"d"},"layer":[
{"mark":{"type":"line","color":"#4A8FCB","strokeWidth":2},"encoding":{
"x":{"field":"t","type":"quantitative","scale":{"domain":[1960.8,1993.2],"nice":false,"zero":false},"axis":{"values":[1965,1970,1975,1980,1985,1990],"format":"d","labelExpr":"datum.value % 10 == 5 ? datum.label : ''","title":null,"labelPadding":9,"labelDx":-4}},
"y":{"field":"v","type":"quantitative","scale":{"domain":[-2.8,72.8],"nice":false,"zero":false},"axis":{"values":[0,10,20,30,40,50,60,70],"labelExpr":"datum.value % 20 == 0 ? datum.label : ''","title":"Vole density","titleX":-60.7,"labelPadding":7}},
"detail":{"field":"s","type":"nominal"}}},
{"data":{"values":[{"txt":"Mean = 4.53\nVar = 33.57"}]},"mark":{"type":"text","align":"left","baseline":"alphabetic","fontSize":23.5,"lineHeight":23.5,"lineBreak":"\n"},"encoding":{"x":{"datum":1980.18},"y":{"datum":56.7},"text":{"field":"txt"}}}
]},
{"width":364,"height":225,"title":{"text":"(f) Group VII","offset":12.3},"data":{"name":"f"},"layer":[
{"mark":{"type":"line","color":"#F2C515","strokeWidth":2},"encoding":{
"x":{"field":"t","type":"quantitative","scale":{"domain":[1960.8,1993.2],"nice":false,"zero":false},"axis":{"values":[1965,1970,1975,1980,1985,1990],"format":"d","labelExpr":"datum.value % 10 == 5 ? datum.label : ''","title":null,"labelPadding":9,"labelDx":-4}},
"y":{"field":"v","type":"quantitative","scale":{"domain":[-2.8,72.8],"nice":false,"zero":false},"axis":{"values":[0,10,20,30,40,50,60,70],"labelExpr":"datum.value % 20 == 0 ? datum.label : ''","title":"Vole density","titleX":-60.7,"labelPadding":7}},
"detail":{"field":"s","type":"nominal"}}},
{"data":{"values":[{"txt":"Mean = 6.22\nVar = 68.31"}]},"mark":{"type":"text","align":"left","baseline":"alphabetic","fontSize":23.5,"lineHeight":23.5,"lineBreak":"\n"},"encoding":{"x":{"datum":1980.63},"y":{"datum":59.9},"text":{"field":"txt"}}}
]},
{"width":364,"height":225,"title":{"text":"(h) Synchrony","offset":8},"data":{"name":"box"},
"encoding":{"x":{"field":"g","type":"ordinal","scale":{"type":"band","domain":["I","II","III","IV","V","VII","VIII"],"paddingInner":0.2,"paddingOuter":0.38},"axis":{"title":"Geographic group","titleX":191,"titleY":78,"titleBaseline":"alphabetic","labelAngle":0,"labelPadding":6.5,"bandPosition":0.5}}},
"layer":[
{"mark":{"type":"rule","color":"black","strokeWidth":1.5,"strokeDash":[5,4]},"encoding":{"y":{"field":"q3","type":"quantitative","scale":{"domain":[-1.08,1.07],"nice":false,"zero":false},"axis":{"values":[-1,-0.5,0,0.5,1],"labelExpr":"datum.value == 1 ? '1.0' : datum.value == 0 ? '0.0' : datum.value == -1 ? '−1.0' : ''","title":"Synchrony","titleX":-62,"labelPadding":-2}},"y2":{"field":"hi"}}},
{"mark":{"type":"rule","color":"black","strokeWidth":1.5,"strokeDash":[5,4]},"encoding":{"y":{"field":"lo","type":"quantitative"},"y2":{"field":"q1"}}},
{"mark":{"type":"tick","orient":"horizontal","color":"black","opacity":1,"size":19,"thickness":1.5},"encoding":{"y":{"field":"hi","type":"quantitative"}}},
{"mark":{"type":"tick","orient":"horizontal","color":"black","opacity":1,"size":19,"thickness":1.5},"encoding":{"y":{"field":"lo","type":"quantitative"}}},
{"mark":{"type":"bar","fill":"#D3D3D3","stroke":"black","strokeWidth":1.5,"opacity":1},"encoding":{"y":{"field":"q1","type":"quantitative"},"y2":{"field":"q3"}}},
{"mark":{"type":"tick","orient":"horizontal","color":"black","opacity":1,"size":37,"thickness":5},"encoding":{"y":{"field":"med","type":"quantitative"}}},
{"data":{"name":"out"},"mark":{"type":"point","shape":"circle","filled":false,"color":"black","opacity":1,"size":16,"strokeWidth":1.5},"encoding":{"y":{"field":"v","type":"quantitative"}}},
{"mark":{"type":"text","fontSize":28,"baseline":"alphabetic","dx":4},"encoding":{"y":{"datum":-0.86},"text":{"field":"let"}}}
]}
]}
],
"config":{
"font":"Liberation Sans",
"view":{"stroke":"black","strokeWidth":1.5},
"axis":{"domain":false,"grid":false,"ticks":true,"tickColor":"black","tickWidth":1.5,"tickSize":12,"labelFont":"Liberation Sans","labelFontSize":25,"labelColor":"black","labelOverlap":false,"labelFlush":false,"titleFont":"Liberation Sans","titleFontSize":28,"titleFontWeight":"normal","titleColor":"black","titleBaseline":"alphabetic"},
"title":{"font":"Liberation Sans","fontSize":28,"fontWeight":"normal","anchor":"start","frame":"group","color":"black","baseline":"alphabetic"},
"text":{"font":"Liberation Sans","color":"black"}
}
}
